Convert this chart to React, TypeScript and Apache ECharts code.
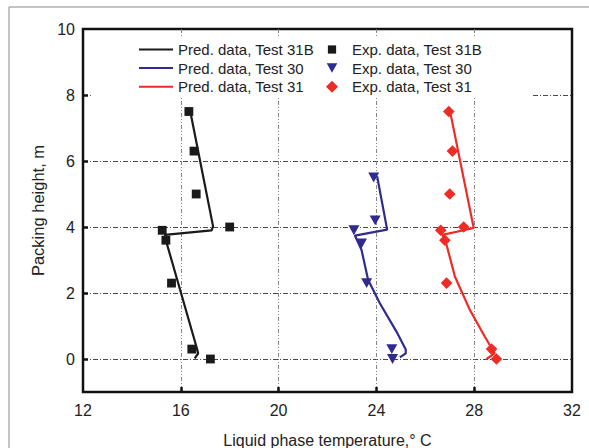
import React, { useEffect, useRef } from 'react';
import * as echarts from 'echarts';

const xTickLabels = [12, 16, 20, 24, 28, 32];
const xTickMarks = [16, 20, 24, 28];
const yTickLabels = [0, 2, 4, 6, 8, 10];
const yTickMarks = [0, 2, 4, 6, 8];

// Predicted profiles (temperature °C, packing height m)
const pred31BTemp = [16.37, 17.32, 17.26, 15.35, 15.42, 16.64, 16.71, 16.57];
const pred31BHeight = [7.57, 4.02, 3.9, 3.76, 3.52, 0.37, 0.17, 0.02];
const pred30Temp = [24.03, 24.44, 23.12, 23.39, 23.66, 24.14, 24.82, 25.2, 25.2, 24.96];
const pred30Height = [5.54, 3.92, 3.74, 3.31, 2.4, 1.69, 0.83, 0.29, 0.17, 0.05];
const pred31Temp = [27.0, 27.98, 26.7, 26.83, 27.21, 27.82, 28.43, 28.84, 28.5];
const pred31Height = [7.55, 3.97, 3.76, 3.57, 2.5, 1.49, 0.68, 0.17, 0.0];

// Experimental data
const exp31BTemp = [16.33, 16.54, 16.63, 18.0, 15.24, 15.39, 15.62, 16.45, 17.21];
const exp31BHeight = [7.5, 6.3, 5.0, 4.0, 3.9, 3.6, 2.3, 0.3, 0.0];
const exp30Temp = [23.89, 23.95, 23.08, 23.39, 23.6, 24.63, 24.66];
const exp30Height = [5.5, 4.2, 3.9, 3.5, 2.3, 0.3, 0.0];
const exp31Temp = [26.96, 27.11, 27.0, 27.57, 26.63, 26.8, 26.87, 28.71, 28.91];
const exp31Height = [7.5, 6.3, 5.0, 4.0, 3.9, 3.6, 2.3, 0.3, 0.0];

const BLACK = '#1a1a1a';
const BLUE = '#2f2b8f';
const RED = '#ee2b25';
const FONT = 'Liberation Sans, Arial, sans-serif';

// marker shapes (with a little empty margin so the legend icons stay small)
const SQUARE = 'path://M-3.5,-3.5 M13.5,13.5 M0,0 L10,0 L10,10 L0,10 Z';
const TRIANGLE = 'path://M-1.6,-2.1 M11.6,11.1 M0,0 L10,0 L5,9 Z';
const DIAMOND = 'path://M-0.8,-0.8 M10.8,10.8 M5,0 L10,5 L5,10 L0,5 Z';

const zip = (a: number[], b: number[]) => a.map((v, i) => [v, b[i]]);

export default function App() {
  const ref = useRef<HTMLDivElement>(null);
  useEffect(() => {
    if (!ref.current) return;
    const chart = echarts.init(ref.current, null, { renderer: 'svg' });
    const hGridLine = { color: '#333', type: [5, 2, 1, 2], width: 0.9 };
    const vGridLine = { color: '#777', type: [4, 2, 1, 2, 1, 2], width: 0.9 };
    const lineSeries = (name: string, t: number[], h: number[], color: string) => ({
      name,
      type: 'line',
      data: zip(t, h),
      symbol: 'none',
      lineStyle: { color, width: 2.2 },
      itemStyle: { color },
      z: 3,
    });
    const expSeries = (name: string, t: number[], h: number[], color: string, symbol: string, size: number) => ({
      name,
      type: 'scatter',
      data: zip(t, h),
      symbol,
      symbolSize: size,
      itemStyle: { color, opacity: 1 },
      z: 4,
    });
    const legendText = { fontSize: 15, color: '#222', fontFamily: FONT };
    chart.setOption({
      animation: false,
      backgroundColor: '#fff',
      textStyle: { fontFamily: FONT },
      grid: {
        left: 83,
        top: 29,
        width: 489,
        height: 363,
        show: true,
        borderColor: '#111',
        borderWidth: 2.5,
        backgroundColor: 'transparent',
        containLabel: false,
        outerBoundsMode: 'none',
      },
      graphic: {
        elements: [
          {
            type: 'rect',
            shape: { x: 9, y: 7, width: 640, height: 520 },
            style: { fill: 'none', stroke: '#888', lineWidth: 1 },
            z: 0,
          },
          {
            type: 'rect',
            shape: { x: 92, y: 36, width: 440, height: 61 },
            style: { fill: '#fff' },
            z: 1,
          },
        ],
      },
      legend: [
        {
          data: ['Pred. data, Test 31B', 'Pred. data, Test 30', 'Pred. data, Test 31'],
          orient: 'vertical',
          left: 138,
          top: 42,
          padding: 0,
          itemWidth: 34,
          itemHeight: 14,
          itemGap: 3.6,
          itemStyle: { opacity: 0 },
          textStyle: legendText,
        },
        {
          data: ['Exp. data, Test 31B', 'Exp. data, Test 30', 'Exp. data, Test 31'],
          orient: 'vertical',
          left: 325,
          top: 42,
          padding: 0,
          itemWidth: 30,
          itemHeight: 14,
          itemGap: 3.6,
          textStyle: legendText,
        },
      ],
      xAxis: {
        type: 'value',
        min: 12,
        max: 32,
        interval: 2,
        name: 'Liquid phase temperature,° C',
        nameLocation: 'middle',
        nameGap: 40,
        nameTextStyle: { fontSize: 16, color: '#222', fontFamily: FONT },
        axisLine: { show: false, onZero: false },
        axisTick: {
          show: true,
          inside: true,
          length: 5,
          customValues: xTickMarks,
          lineStyle: { color: '#111', width: 2.5 },
        },
        axisLabel: {
          customValues: xTickLabels,
          fontSize: 16,
          color: '#222',
          margin: 10,
          fontFamily: FONT,
        },
        splitLine: { show: true, lineStyle: vGridLine },
      },
      yAxis: {
        type: 'value',
        min: -1,
        max: 10,
        interval: 1,
        name: 'Packing height, m',
        nameLocation: 'middle',
        nameGap: 34,
        nameRotate: 90,
        nameTextStyle: { fontSize: 16.5, color: '#222', fontFamily: FONT },
        axisLine: { show: false, onZero: false },
        axisTick: {
          show: true,
          inside: true,
          length: 5,
          customValues: yTickMarks,
          lineStyle: { color: '#111', width: 2.5 },
        },
        axisLabel: {
          customValues: yTickLabels,
          fontSize: 16,
          color: '#222',
          margin: 8,
          fontFamily: FONT,
        },
        splitLine: { show: true, lineStyle: hGridLine },
      },
      series: [
        lineSeries('Pred. data, Test 31B', pred31BTemp, pred31BHeight, BLACK),
        lineSeries('Pred. data, Test 30', pred30Temp, pred30Height, BLUE),
        lineSeries('Pred. data, Test 31', pred31Temp, pred31Height, RED),
        expSeries('Exp. data, Test 31B', exp31BTemp, exp31BHeight, BLACK, SQUARE, 15),
        expSeries('Exp. data, Test 30', exp30Temp, exp30Height, BLUE, TRIANGLE, 14.5),
        expSeries('Exp. data, Test 31', exp31Temp, exp31Height, RED, DIAMOND, 13.5),
      ],
    });
    return () => chart.dispose();
  }, []);
  return (
    <div
      ref={ref}
      style={{ position: 'absolute', left: 0, top: 0, width: 589, height: 448, background: '#fff' }}
    />
  );
}
